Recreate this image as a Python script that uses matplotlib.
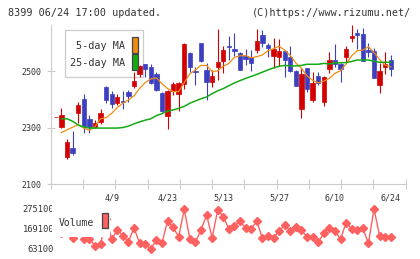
import numpy as np
import pandas as pd
import matplotlib
matplotlib.use("Agg")
from matplotlib import pyplot as plt
from matplotlib.patches import Rectangle

# daily candles, 2020-03-26 .. 2020-06-24
opens = [2336, 2303, 2195, 2227, 2352, 2400, 2330, 2301, 2320, 2444, 2418, 2387, 2395, 2426, 2447, 2490,
         2524, 2514, 2488, 2421, 2341, 2430, 2418, 2455, 2564, 2499, 2599, 2505, 2462, 2515, 2537, 2587,
         2579, 2565, 2554, 2550, 2574, 2627, 2593, 2555, 2550, 2571, 2550, 2500, 2367, 2511, 2396, 2481,
         2391, 2507, 2539, 2525, 2548, 2618, 2633, 2631, 2574, 2571, 2450, 2515, 2539]
closes = [2336, 2343, 2249, 2211, 2381, 2305, 2302, 2317, 2351, 2398, 2383, 2408, 2392, 2410, 2465, 2518,
          2508, 2459, 2432, 2360, 2429, 2454, 2458, 2596, 2515, 2495, 2534, 2462, 2482, 2533, 2574, 2584,
          2572, 2505, 2542, 2530, 2606, 2600, 2583, 2578, 2571, 2540, 2501, 2448, 2490, 2437, 2458, 2458,
          2479, 2539, 2524, 2507, 2577, 2625, 2627, 2536, 2566, 2476, 2500, 2525, 2507]
highs = [2336, 2369, 2258, 2287, 2390, 2420, 2343, 2325, 2364, 2446, 2429, 2420, 2428, 2432, 2496, 2522,
         2526, 2524, 2496, 2425, 2432, 2460, 2462, 2598, 2566, 2514, 2601, 2530, 2504, 2650, 2588, 2623,
         2635, 2566, 2579, 2575, 2650, 2645, 2599, 2617, 2615, 2573, 2588, 2505, 2512, 2512, 2495, 2497,
         2481, 2567, 2596, 2528, 2588, 2663, 2649, 2651, 2598, 2580, 2527, 2566, 2557]
lows = [2336, 2300, 2187, 2204, 2315, 2279, 2279, 2298, 2312, 2386, 2369, 2381, 2366, 2390, 2441, 2479,
        2480, 2455, 2430, 2356, 2296, 2416, 2358, 2437, 2498, 2450, 2532, 2396, 2445, 2470, 2492, 2540,
        2554, 2503, 2522, 2500, 2563, 2586, 2548, 2512, 2517, 2478, 2497, 2446, 2335, 2427, 2391, 2450,
        2376, 2494, 2515, 2462, 2533, 2604, 2578, 2536, 2551, 2476, 2423, 2489, 2483]

ma5 = [np.nan, 2282, 2292, 2301, 2310, 2298, 2290, 2303, 2331, 2335, 2350, 2371, 2386, 2398, 2412, 2439,
       2459, 2472, 2476, 2455, 2438, 2427, 2427, 2459, 2490, 2504, 2520, 2520, 2498, 2501, 2517, 2527,
       2549, 2554, 2555, 2547, 2551, 2557, 2572, 2579, 2588, 2574, 2555, 2528, 2510, 2483, 2467, 2458,
       2464, 2474, 2492, 2501, 2525, 2554, 2572, 2574, 2586, 2566, 2541, 2521, 2515]
ma25 = [np.nan, 2331, 2331, 2322, 2309, 2302, 2298, 2298, 2298, 2298, 2298, 2298, 2300, 2305, 2313, 2320,
        2326, 2331, 2342, 2349, 2358, 2362, 2368, 2375, 2386, 2394, 2402, 2408, 2420, 2430, 2438, 2448,
        2458, 2466, 2474, 2481, 2488, 2496, 2504, 2511, 2517, 2520, 2518, 2518, 2520, 2524, 2524, 2524,
        2527, 2525, 2529, 2529, 2530, 2534, 2539, 2539, 2539, 2535, 2531, 2531, 2531]

volume = [160000, 150000, 190000, 123000, 200000, 117700, 117700, 80600, 88000, 222000, 116100, 163800,
          133600, 101800, 176000, 93300, 88000, 63100, 110800, 93300, 211500, 178100, 128300, 275100,
          116100, 98600, 163800, 243300, 123000, 269800, 234300, 169100, 185000, 211500, 172800, 169100,
          211500, 119800, 133600, 123000, 158500, 190300, 158500, 178100, 163800, 125100, 125100, 98600,
          146300, 172800, 158500, 116100, 202500, 169100, 163800, 172800, 93300, 275100, 133600, 125100,
          125100]

holidays = ["2020-04-29", "2020-05-04", "2020-05-05", "2020-05-06"]
dates = pd.bdate_range("2020-03-26", "2020-06-24", freq="C", holidays=holidays)

price_ticks = [2100, 2300, 2500]
vol_ticks = [63100, 169100, 275100]

W, H = 420, 259
RED, BLUE = "#d20000", "#3c40c0"
ORANGE, GREEN = "#f08c14", "#14aa14"
VOLC = "#ff6060"
GRID = "#cccccc"
TXT = "#333333"
MONO = "DejaVu Sans Mono"


def fig_xy(x, y):
    return x / W, 1 - y / H


fig = plt.figure(figsize=(4.2, 2.59), dpi=100)
fig.patch.set_facecolor("white")

x = np.arange(len(opens))
xlim = (-0.93, 62.68)

ax = fig.add_axes([50.7 / W, 1 - 184 / H, 355 / W, 159 / H])
ax.set_xlim(*xlim)
ax.set_ylim(2100, 2663)

o = np.array(opens)
c = np.array(closes)
up = c >= o
cols = np.where(up, RED, BLUE)
ax.vlines(x, lows, highs, colors=cols, lw=0.8, zorder=3)
ax.bar(x, c - o, bottom=o, width=0.78, color=cols, edgecolor=cols, lw=0.5, zorder=4)
ax.plot(x, ma5, color=ORANGE, lw=0.9, zorder=5)
ax.plot(x, ma25, color=GREEN, lw=1.1, zorder=5)

for s in ["top", "right"]:
    ax.spines[s].set_visible(False)
for s in ["left", "bottom"]:
    ax.spines[s].set_color(GRID)
    ax.spines[s].set_linewidth(0.8)

ax.set_yticks(price_ticks)
ax.set_yticklabels([str(v) for v in price_ticks])
ax.tick_params(axis="y", direction="inout", length=6, width=0.8, color=GRID,
               labelsize=6, labelcolor=TXT, pad=4)

lab_idx = list(range(len(dates) - 1, -1, -10))[::-1]
lab_idx = [i for i in lab_idx if i > 5]
ax.set_xticks(lab_idx)
ax.set_xticklabels([f"{dates[i].month}/{dates[i].day}" for i in lab_idx])
ax.set_xticks(np.linspace(xlim[0], xlim[1], 12), minor=True)
ax.tick_params(axis="x", which="major", length=0, labelsize=6, labelcolor=TXT, pad=7)
ax.tick_params(axis="x", which="minor", direction="inout", length=7, width=0.8, color=GRID)
for t in ax.get_xticklabels() + ax.get_yticklabels():
    t.set_family(MONO)

# legend of the moving averages
x0, y0 = fig_xy(65, 77)
ax.add_patch(Rectangle((x0, y0), 78 / W, 47 / H, transform=fig.transFigure, fc="white",
                       ec=GRID, lw=0.9, zorder=1, clip_on=False))
fig.text(*fig_xy(125, 46), "5-day MA", ha="right", va="center", fontsize=7.3, family=MONO, color=TXT)
fig.text(*fig_xy(125, 62.5), "25-day MA", ha="right", va="center", fontsize=7.3, family=MONO, color=TXT)
for top, col in [(37.3, ORANGE), (54.3, GREEN)]:
    sx, sy = fig_xy(131.7, top + 15.5)
    fig.patches.append(Rectangle((sx, sy), 5.8 / W, 15.5 / H, transform=fig.transFigure,
                                 fc=col, ec="#444444", lw=0.9))

# volume panel
axv = fig.add_axes([50.7 / W, 1 - 255 / H, 355 / W, 52 / H])
axv.set_xlim(*xlim)
axv.set_ylim(31300, 306900)
axv.plot(x, volume, color=VOLC, lw=1, marker="D", ms=4.2, mec=VOLC, mfc=VOLC, zorder=2)
for s in axv.spines.values():
    s.set_visible(False)
axv.set_xticks([])
axv.set_yticks(vol_ticks)
axv.set_yticklabels([str(v) for v in vol_ticks])
axv.tick_params(axis="y", length=0, labelsize=6.3, labelcolor=TXT, pad=-2.4)
for t in axv.get_yticklabels():
    t.set_family(MONO)

vx, vy = fig_xy(52, 236.5)
axv.add_patch(Rectangle((vx, vy), 58 / W, 31.5 / H, transform=fig.transFigure, fc="white",
                        ec="none", zorder=5, clip_on=False))
fig.text(*fig_xy(59, 222.5), "Volume", ha="left", va="center", fontsize=7, family=MONO, color=TXT)
sx, sy = fig_xy(101.7, 228.3)
fig.patches.append(Rectangle((sx, sy), 6.6 / W, 15 / H, transform=fig.transFigure,
                             fc=VOLC, ec="#444444", lw=0.9))

# header
fig.text(*fig_xy(8, 12.5), "8399 06/24 17:00 updated.", ha="left", va="center",
         fontsize=7.3, family=MONO, color=TXT)
fig.text(*fig_xy(411, 12.5), "(C)https://www.rizumu.net/", ha="right", va="center",
         fontsize=7.3, family=MONO, color=TXT)

fig.savefig("out.png", dpi=100)
